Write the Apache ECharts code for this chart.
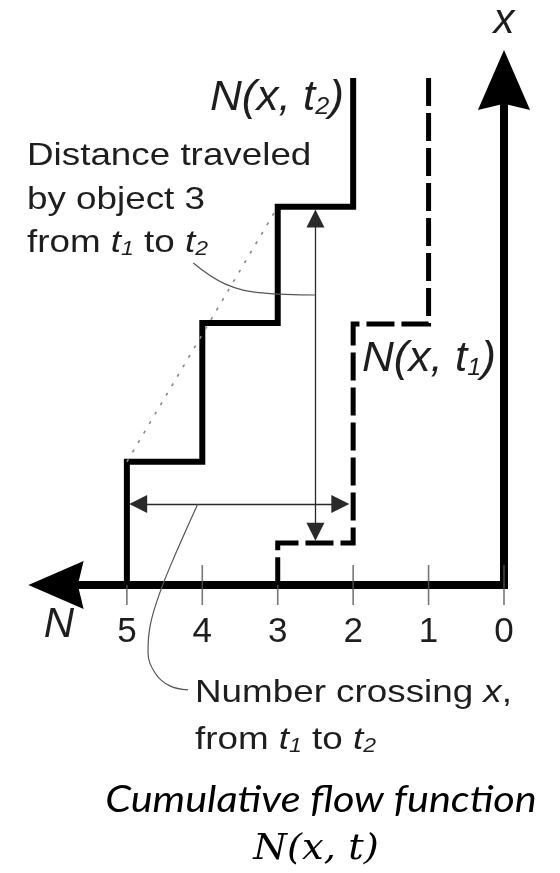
<!DOCTYPE html>
<html>
<head>
<meta charset="utf-8">
<title>Cumulative flow function</title>
<script src="https://cdn.jsdelivr.net/npm/echarts@6/dist/echarts.min.js"></script>
<style>
  html, body { margin: 0; padding: 0; background: #fff; }
  #chart { width: 560px; height: 873px; }
</style>
</head>
<body>
<div id="chart"></div>
<script>
// N (cumulative count) runs right to left, x (position) runs up
const tickValues = [0, 1, 2, 3, 4, 5];
const nMax = 5.9;   // end of the N axis, under its arrow head
const xMax = 10;    // end of the x axis

// corners of N(x, t2), as [N, x]
const curveT2 = [[2, 10], [3, 7.46], [4, 5.17], [5, 2.43], [5, 0]];
// corners of N(x, t1)
const curveT1 = [[1, 10], [2, 5.15], [3, 0.83], [3, 0]];
// dotted chord over the t2 steps
const chordT2 = [[5, 2.43], [3, 7.46]];
// distance travelled by object 3 (head centres)
const distArrow = [[2.5, 7.23], [2.5, 1.05]];
// number crossing x (head centres)
const countArrow = [[4.85, 1.6], [2.17, 1.6]];
// leader curves from the notes
const leaderDist = [[4.12, 6.35], [3.70, 5.94], [3.21, 5.76], [2.5, 5.72]];
const leaderCount = [[4.06, 1.6], [4.35, 0.63], [4.56, -0.14], [4.69, -0.79], [4.72, -1.32], [4.62, -1.75], [4.43, -1.99], [4.19, -2.07]];

const SANS = '"Liberation Sans", Arial, sans-serif';
const INK = '#1e1e1e';
const arrowHead = 'path://M0,0L10,23L0,20.6L-10,23Z';

function richSet(size, lh, subSize, subLh) {
    const base = { fontSize: size, fontFamily: SANS, fill: INK, lineHeight: lh, verticalAlign: 'bottom' };
    return {
        r: base,
        i: Object.assign({}, base, { fontStyle: 'italic' }),
        s: Object.assign({}, base, { fontStyle: 'italic', fontSize: subSize, lineHeight: subLh })
    };
}
const noteRich = richSet(32, 38, 20, 18);
const curveRich = richSet(42, 48, 24, 12);

function txt(x, y, text, rich, sx, align) {
    return {
        type: 'text', x: x, y: y, scaleX: sx || 1, silent: true,
        style: { text: text, rich: rich, align: align || 'left', verticalAlign: 'middle' }
    };
}

const chart = echarts.init(document.getElementById('chart'));

chart.setOption({
    animation: false,
    grid: { left: 59, right: 56, top: 78, bottom: 288, containLabel: false, outerBoundsMode: 'none' },
    xAxis: {
        type: 'value', inverse: true, min: 0, max: nMax, interval: 1,
        axisLine: {
            show: true, onZero: false,
            lineStyle: { color: '#000', width: 8, cap: 'square' },
            symbol: [arrowHead, 'none'], symbolSize: [48, 62], symbolOffset: [-3, 0]
        },
        axisTick: { show: false },
        splitLine: { show: false },
        axisLabel: {
            margin: 29, fontSize: 35, fontFamily: SANS, color: INK,
            showMinLabel: true, showMaxLabel: true,
            formatter: function (v) {
                return Math.abs(v - nMax) < 1e-6 ? '{n|N}' : '{d|' + v + '}';
            },
            rich: {
                d: { fontSize: 35, fontFamily: SANS, color: INK, lineHeight: 36 },
                n: { fontSize: 42, fontFamily: SANS, fontStyle: 'italic', color: INK, lineHeight: 22 }
            }
        }
    },
    yAxis: {
        type: 'value', min: 0, max: xMax, position: 'right',
        name: 'x', nameLocation: 'end', nameGap: 57,
        nameTextStyle: { fontSize: 42, fontFamily: SANS, fontStyle: 'italic', color: INK, verticalAlign: 'middle' },
        axisLine: {
            show: true, onZero: false,
            lineStyle: { color: '#000', width: 8, cap: 'square' },
            symbol: ['none', arrowHead], symbolSize: [54, 60], symbolOffset: [0, -2]
        },
        axisTick: { show: false },
        axisLabel: { show: false },
        splitLine: { show: false }
    },
    series: [
        {
            name: 'ticks', type: 'scatter', clip: false, silent: true,
            data: tickValues.map(function (v) { return [v, 0]; }),
            symbol: 'rect', symbolSize: [1.6, 40],
            itemStyle: { color: '#555' }
        },
        {
            name: 'N(x, t2)', type: 'line', data: curveT2, step: 'start', clip: false,
            symbol: 'none', silent: true,
            lineStyle: { color: '#000', width: 6, join: 'miter' }
        },
        {
            name: 'N(x, t1)', type: 'line', data: curveT1, step: 'start', clip: false,
            symbol: 'none', silent: true,
            lineStyle: { color: '#000', width: 5, type: [28, 7], join: 'miter' }
        },
        {
            name: 'chord', type: 'line', data: chordT2, clip: false, symbol: 'none', silent: true,
            lineStyle: { color: '#888', width: 1.6, type: [3, 8] }
        },
        {
            name: 'leader distance', type: 'line', data: leaderDist, smooth: 0.4, clip: false,
            symbol: 'none', silent: true,
            lineStyle: { color: '#555', width: 1.2 }
        },
        {
            name: 'leader count', type: 'line', data: leaderCount, smooth: 0.4, clip: false,
            symbol: 'none', silent: true,
            lineStyle: { color: '#555', width: 1.2 }
        },
        {
            name: 'arrows', type: 'lines', coordinateSystem: 'cartesian2d', silent: true,
            symbol: ['triangle', 'triangle'], symbolSize: 18,
            lineStyle: { color: '#2a2a2a', width: 1.3, opacity: 1, curveness: 0 },
            data: [{ coords: distArrow }, { coords: countArrow }]
        }
    ],
    graphic: [
        txt(27, 153.5, '{r|Distance traveled}', noteRich, 1.15),
        txt(27, 197.5, '{r|by object 3}', noteRich, 1.15),
        txt(27, 240.5, '{r|from }{i|t}{s|1}{r| to }{i|t}{s|2}', noteRich, 1.15),
        txt(210, 95, '{i|N(x, t}{s|2}{i|)}', curveRich, 1.05),
        txt(362, 356, '{i|N(x, t}{s|1}{i|)}', curveRich, 1.05),
        txt(195, 690, '{r|Number crossing }{i|x}{r|,}', noteRich, 1.15),
        txt(195, 737, '{r|from }{i|t}{s|1}{r| to }{i|t}{s|2}', noteRich, 1.15),
        {
            type: 'text', x: 321, y: 800, scaleX: 1.15, silent: true,
            style: { text: 'Cumulative flow function', fontSize: 36, fontFamily: 'Lato, "Open Sans", sans-serif',
                     fontStyle: 'italic', fill: '#000', align: 'center', verticalAlign: 'middle' }
        },
        {
            type: 'text', x: 316, y: 850, scaleX: 1.1, silent: true,
            style: { text: 'N(x, t)', fontSize: 35, fontFamily: '"DejaVu Serif", serif',
                     fontStyle: 'italic', fill: '#000', align: 'center', verticalAlign: 'middle' }
        }
    ]
});
</script>
</body>
</html>
